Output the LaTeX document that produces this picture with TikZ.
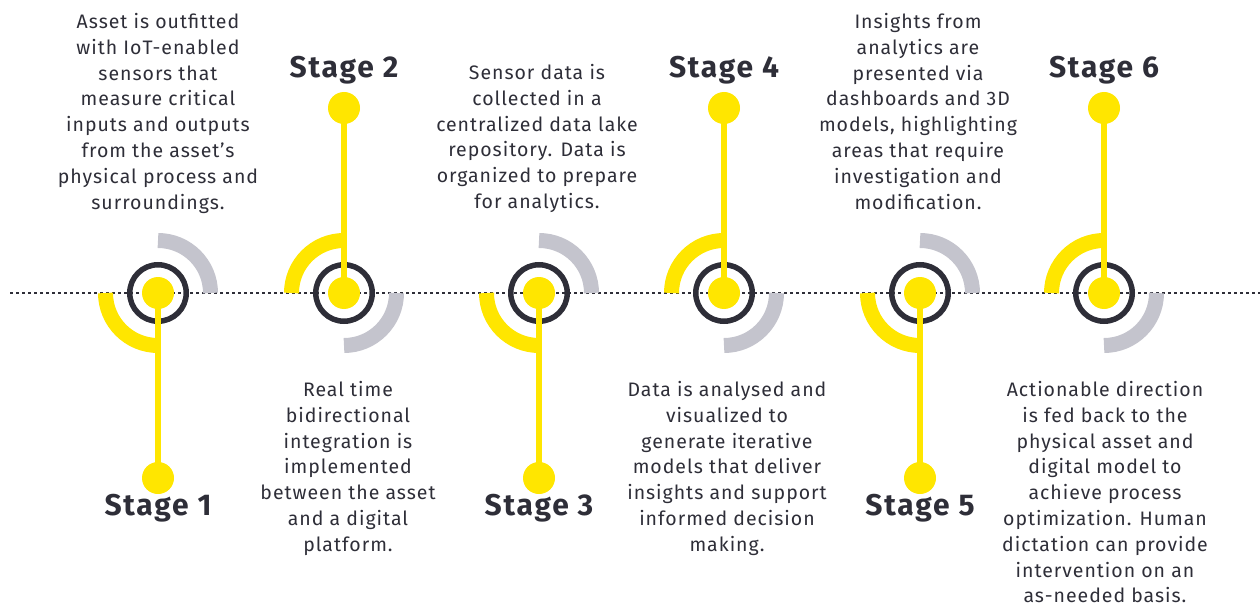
\documentclass[tikz,border=0pt]{standalone}
\usepackage{fontspec}
\setmainfont{Fira Sans}
\newfontfamily\blurbfont[LetterSpace=5]{Fira Sans}
\newfontfamily\stagefont[LetterSpace=6]{Fira Sans}
\definecolor{eydark}{HTML}{2E2E38}
\definecolor{eyyellow}{HTML}{FFE600}
\definecolor{eygrey}{HTML}{C4C4CD}
\tikzset{
  ring/.style={draw=eydark,line width=5.5pt,circle,minimum size=56.5pt,inner sep=0pt},
  knob/.style={fill=eyyellow,circle,minimum size=32pt,inner sep=0pt},
  stem/.style={draw=eyyellow,line width=6pt},
  yarc/.style={draw=eyyellow,line width=15pt},
  garc/.style={draw=eygrey,line width=15pt},
  stagelabel/.style={text=eydark,anchor=base,font=\stagefont\bfseries\fontsize{30}{31}\selectfont},
  blurb/.style={text=eydark,align=center,anchor=north,inner sep=0pt,font=\blurbfont\fontsize{19.5}{25.8}\selectfont}
}
\begin{document}
\begin{tikzpicture}[x=1pt,y=1pt]
                \useasboundingbox (0,0) rectangle (1260,606);
                \draw[eydark,line width=2.7pt,dash pattern=on 2.7pt off 3.3pt] (10,313) -- (1260,313);
                % stage 1
                \node[ring] (r1) at (158,313) {};
                \draw[garc] (r1.center) ++(52.5,0) arc[start angle=0,end angle=90,radius=52.5];
                \draw[yarc] (r1.center) ++(-52.5,0) arc[start angle=180,end angle=270,radius=52.5];
                \node[knob] (k1) at (r1.center) {};
                \node[knob] (e1) at (158,128) {};
                \draw[stem] (k1.center) -- (e1.center);
                \node[stagelabel] (s1) at (158,91) {Stage 1};
                \node[blurb] (b1) at (158,593) {Asset is outfitted\\with IoT-enabled\\sensors that\\measure critical\\inputs and outputs\\from the asset’s\\physical process and\\surroundings.};
                % stage 2
                \node[ring] (r2) at (344,313) {};
                \draw[yarc] (r2.center) ++(-52.5,0) arc[start angle=180,end angle=90,radius=52.5];
                \draw[garc] (r2.center) ++(52.5,0) arc[start angle=0,end angle=-90,radius=52.5];
                \node[knob] (k2) at (r2.center) {};
                \node[knob] (e2) at (344,498) {};
                \draw[stem] (k2.center) -- (e2.center);
                \node[stagelabel] (s2) at (344,528) {Stage 2};
                \node[blurb] (b2) at (348,225) {Real time\\bidirectional\\integration is\\implemented\\between the asset\\and a digital\\platform.};
                % stage 3
                \node[ring] (r3) at (539,313) {};
                \draw[garc] (r3.center) ++(52.5,0) arc[start angle=0,end angle=90,radius=52.5];
                \draw[yarc] (r3.center) ++(-52.5,0) arc[start angle=180,end angle=270,radius=52.5];
                \node[knob] (k3) at (r3.center) {};
                \node[knob] (e3) at (539,128) {};
                \draw[stem] (k3.center) -- (e3.center);
                \node[stagelabel] (s3) at (539,91) {Stage 3};
                \node[blurb] (b3) at (537,542) {Sensor data is\\collected in a\\centralized data lake\\repository. Data is\\organized to prepare\\for analytics.};
                % stage 4
                \node[ring] (r4) at (724,313) {};
                \draw[yarc] (r4.center) ++(-52.5,0) arc[start angle=180,end angle=90,radius=52.5];
                \draw[garc] (r4.center) ++(52.5,0) arc[start angle=0,end angle=-90,radius=52.5];
                \node[knob] (k4) at (r4.center) {};
                \node[knob] (e4) at (724,498) {};
                \draw[stem] (k4.center) -- (e4.center);
                \node[stagelabel] (s4) at (724,528) {Stage 4};
                \node[blurb] (b4) at (727,225) {Data is analysed and\\visualized to\\generate iterative\\models that deliver\\insights and support\\informed decision\\making.};
                % stage 5
                \node[ring] (r5) at (920,313) {};
                \draw[garc] (r5.center) ++(52.5,0) arc[start angle=0,end angle=90,radius=52.5];
                \draw[yarc] (r5.center) ++(-52.5,0) arc[start angle=180,end angle=270,radius=52.5];
                \node[knob] (k5) at (r5.center) {};
                \node[knob] (e5) at (920,128) {};
                \draw[stem] (k5.center) -- (e5.center);
                \node[stagelabel] (s5) at (920,91) {Stage 5};
                \node[blurb] (b5) at (918,593) {Insights from\\analytics are\\presented via\\dashboards and 3D\\models, highlighting\\areas that require\\investigation and\\modification.};
                % stage 6
                \node[ring] (r6) at (1104,313) {};
                \draw[yarc] (r6.center) ++(-52.5,0) arc[start angle=180,end angle=90,radius=52.5];
                \draw[garc] (r6.center) ++(52.5,0) arc[start angle=0,end angle=-90,radius=52.5];
                \node[knob] (k6) at (r6.center) {};
                \node[knob] (e6) at (1104,498) {};
                \draw[stem] (k6.center) -- (e6.center);
                \node[stagelabel] (s6) at (1104,528) {Stage 6};
                \node[blurb] (b6) at (1105,225) {Actionable direction\\is fed back to the\\physical asset and\\digital model to\\achieve process\\optimization. Human\\dictation can provide\\intervention on an\\as-needed basis.};
\end{tikzpicture}
\end{document}
